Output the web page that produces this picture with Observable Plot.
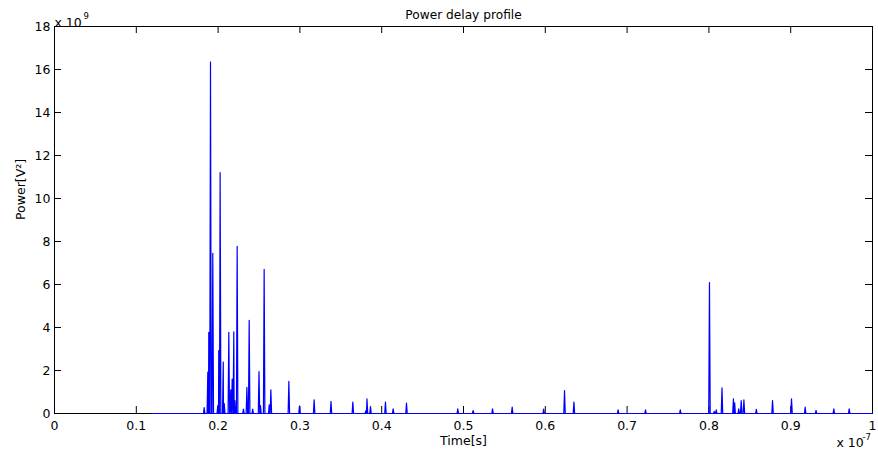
<!DOCTYPE html>
<html>
<head>
<meta charset="utf-8">
<script src="https://cdn.jsdelivr.net/npm/d3@7"></script>
<script src="https://cdn.jsdelivr.net/npm/@observablehq/plot@0.6"></script>
<style>
  html, body { margin: 0; padding: 0; background: #fff; }
  #chart { width: 878px; height: 456px; }
</style>
</head>
<body>
<div id="chart"></div>
<script>
// Spike arrival times (units of 1e-7 s) and peak powers (units of 1e9 V^2)
const spikeTimes = [
  0.183, 0.1874, 0.1886, 0.1907, 0.1935, 0.1996, 0.2008, 0.2025, 0.2063, 0.2075,
  0.2131, 0.2155, 0.2172, 0.2192, 0.2205, 0.2233, 0.2310, 0.2352, 0.2380, 0.2423,
  0.2500, 0.2518, 0.2563, 0.2625, 0.2645, 0.2865, 0.2995, 0.3174, 0.3380, 0.3647,
  0.3805, 0.3820, 0.3863, 0.4046, 0.4140, 0.4303, 0.4930, 0.5118, 0.5355, 0.5595,
  0.5980, 0.6235, 0.6350, 0.6890, 0.7225, 0.7650, 0.8007, 0.8065, 0.8090, 0.8160,
  0.8300, 0.8315, 0.8365, 0.8395, 0.8428, 0.8580, 0.8778, 0.9010, 0.9177, 0.9310,
  0.9527, 0.9715
];
const spikePowers = [
  0.28, 1.92, 3.78, 16.35, 7.45, 0.37, 2.93, 11.2, 2.39, 0.46,
  3.78, 1.1, 1.6, 3.8, 0.6, 7.78, 0.2, 1.22, 4.33, 0.2,
  1.95, 0.37, 6.7, 0.4, 1.1, 1.49, 0.35, 0.64, 0.56, 0.53,
  0.12, 0.68, 0.32, 0.53, 0.22, 0.48, 0.22, 0.14, 0.22, 0.3,
  0.2, 1.07, 0.53, 0.17, 0.17, 0.17, 6.09, 0.1, 0.17, 1.19,
  0.68, 0.5, 0.22, 0.6, 0.64, 0.19, 0.6, 0.68, 0.3, 0.14,
  0.22, 0.22
];
const timeStart = 0.12;   // where the trace begins
const timeEnd = 1.0;      // where the trace ends
const xTicks = [0, 0.1, 0.2, 0.3, 0.4, 0.5, 0.6, 0.7, 0.8, 0.9, 1];
const yTicks = [0, 2, 4, 6, 8, 10, 12, 14, 16, 18];
const titleText = "Power delay profile";
const xLabel = "Time[s]";
const yLabel = "Power[V\u00b2]";

// Build the trace: a zero baseline with a narrow triangular spike at each arrival
const halfWidth = 0.0009;
const trace = [{t: timeStart, p: 0}];
spikeTimes.forEach((t, i) => {
  trace.push({t: t - halfWidth, p: 0});
  trace.push({t: t, p: spikePowers[i]});
  trace.push({t: t + halfWidth, p: 0});
});
trace.push({t: timeEnd, p: 0});
trace.sort((a, b) => a.t - b.t);

const W = 878, H = 456;
const mL = 54, mR = 6, mT = 26, mB = 43;
const innerW = W - mL - mR, innerH = H - mT - mB;
const tickLen = 7;
const font = "'DejaVu Sans', Verdana, sans-serif";

const chart = Plot.plot({
  width: W,
  height: H,
  marginLeft: mL,
  marginRight: mR,
  marginTop: mT,
  marginBottom: mB,
  style: {fontFamily: font, fontSize: "12.5px", color: "#000", background: "#fff"},
  x: {domain: [0, 1], ticks: xTicks},
  y: {domain: [0, 18], ticks: yTicks},
  marks: [
    // inward ticks on all four sides
    Plot.tickX(xTicks, {x: d => d, stroke: "#000", insetTop: innerH - tickLen}),
    Plot.tickX(xTicks, {x: d => d, stroke: "#000", insetBottom: innerH - tickLen}),
    Plot.tickY(yTicks, {y: d => d, stroke: "#000", insetRight: innerW - tickLen}),
    Plot.tickY(yTicks, {y: d => d, stroke: "#000", insetLeft: innerW - tickLen}),
    Plot.frame({stroke: "#000", strokeWidth: 1}),
    Plot.line(trace, {x: "t", y: "p", stroke: "#0000ff", strokeWidth: 1.2, curve: "linear"}),
    Plot.axisX(xTicks, {anchor: "bottom", tickSize: 0, tickPadding: 8, label: null, tickFormat: d => String(d), fontSize: 12.5}),
    Plot.axisY(yTicks, {anchor: "left", tickSize: 0, tickPadding: 4, label: null, tickFormat: d => String(d), fontSize: 12.5}),
    // title
    Plot.text([titleText], {frameAnchor: "top", dy: -16, fontSize: 12.2, text: d => d, fill: "#000"}),
    // x label
    Plot.text([xLabel], {frameAnchor: "bottom", dy: 31, fontSize: 12.5, text: d => d, fill: "#000"}),
    // y label
    Plot.text([yLabel], {frameAnchor: "left", dx: -34, rotate: -90, fontSize: 12.5, text: d => d, fill: "#000"}),
    // exponent labels
    Plot.text(["x 10"], {frameAnchor: "top-left", dx: 0, dy: -8, textAnchor: "start", fontSize: 12.5, text: d => d, fill: "#000"}),
    Plot.text(["9"], {frameAnchor: "top-left", dx: 29, dy: -14, textAnchor: "start", fontSize: 8.5, text: d => d, fill: "#000"}),
    Plot.text(["x 10"], {frameAnchor: "bottom-right", dx: -36, dy: 33, textAnchor: "start", fontSize: 12.5, text: d => d, fill: "#000"}),
    Plot.text(["-7"], {frameAnchor: "bottom-right", dx: -10, dy: 26.5, textAnchor: "start", fontSize: 8.5, text: d => d, fill: "#000"})
  ]
});
document.getElementById("chart").appendChild(chart);
</script>
</body>
</html>
